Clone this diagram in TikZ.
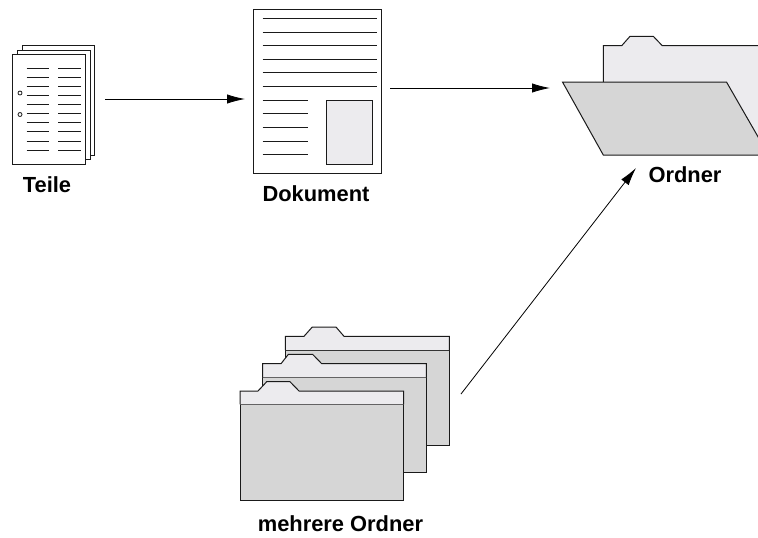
\documentclass[tikz,border=0pt]{standalone}
\usepackage{fontspec}
\setmainfont{Liberation Sans}
\usetikzlibrary{arrows.meta}
\definecolor{lightfold}{HTML}{ECEBEE}
\definecolor{greyfold}{HTML}{D6D6D6}
\definecolor{inkline}{HTML}{1A1A1A}
\tikzset{
  px/.style={x=0.75pt,y=-0.75pt},
  outline/.style={draw=inkline,line width=0.75pt,line join=miter},
  page/.style={outline,fill=white},
  lightpart/.style={outline,fill=lightfold},
  greypart/.style={outline,fill=greyfold},
  textline/.style={draw=inkline,line width=0.75pt},
  smallline/.style={draw=inkline,line width=0.6pt},
  flow/.style={draw=black,line width=0.6pt,-{Latex[length=13.5pt,width=7pt]}},
  caption/.style={font=\bfseries\fontsize{16.4pt}{19pt}\selectfont,text=black,inner sep=0pt},
}
\newcommand{\stackfolder}[8]{%
  \fill[lightfold] (#1,#3) -- (#5,#3) -- (#6,#3-9.3) -- (#7,#3-9.3) -- (#8,#3) -- (#2,#3) -- (#2,#4) -- (#1,#4) -- cycle;
  \draw[outline] (#1,#4) -- (#1,#3) -- (#5,#3) -- (#6,#3-9.3) -- (#7,#3-9.3) -- (#8,#3) -- (#2,#3) -- (#2,#4);
}
\begin{document}
\begin{tikzpicture}[px]
\useasboundingbox (0,0) rectangle (758,537);
% Teile
\draw[page] (22,45) rectangle (94.5,155);
\draw[page] (17,50) rectangle (90,159);
\draw[page] (12.5,54.5) rectangle (85.5,164);
\foreach \i in {0,...,9}{
  \draw[smallline] (26.5,68.3+9.08*\i) -- (49,68.3+9.08*\i);
  \draw[smallline] (58,68.3+9.08*\i) -- (81,68.3+9.08*\i);
}
\draw[smallline] (20,93) circle[radius=2];
\draw[smallline] (20,114.5) circle[radius=2];
\node[caption] (teile) at (47,184.5) {Teile};
% Dokument
\draw[page] (253.5,9) rectangle (381,173);
\foreach \y in {18.3,32,45.5,59,72.7,86.5}
  \draw[textline] (262.5,\y) -- (376.5,\y);
\foreach \y in {100,113.7,127.3,141,154.7}
  \draw[textline] (262.5,\y) -- (308,\y);
\draw[lightpart] (326,100) rectangle (372,164);
\node[caption] (dokument) at (316,193.5) {Dokument};
% Ordner
\begin{scope}
\clip (0,0) rectangle (758,537);
\draw[lightpart] (603.3,82) -- (603.3,45.7) -- (621.7,45.7) -- (630,36.3) -- (653.3,36.3) -- (662.3,45.7) -- (770,45.7) -- (770,150) -- (603.3,150);
\draw[greypart] (562.5,82) -- (726.5,82) -- (768.5,155) -- (603.3,155) -- cycle;
\end{scope}
\node[caption] (ordner) at (685,175) {Ordner};
% mehrere Ordner
\draw[greypart] (285.3,350) rectangle (449.3,445.3);
\stackfolder{285.3}{449.3}{336.3}{350}{304}{312.3}{336}{344}
\draw[greypart] (262.5,377.3) rectangle (426.3,472.7);
\stackfolder{262.5}{426.3}{363.7}{377.3}{281}{288.3}{312.7}{321.7}
\draw[greypart] (240,404.3) rectangle (403.7,500);
\stackfolder{240}{403.7}{391}{404.3}{258}{266.7}{290}{299}
\node[caption] (mehrere) at (340.5,523.5) {mehrere Ordner};
% connectors
\coordinate (teileOut) at (105,99);
\coordinate (dokIn) at (245,99);
\coordinate (dokOut) at (390,88);
\coordinate (ordIn) at (550,88);
\coordinate (mehrOut) at (461,394);
\coordinate (ordUp) at (636,168);
\draw[flow] (teileOut) -- (dokIn);
\draw[flow] (dokOut) -- (ordIn);
\draw[flow] (mehrOut) -- (ordUp);
\end{tikzpicture}
\end{document}
